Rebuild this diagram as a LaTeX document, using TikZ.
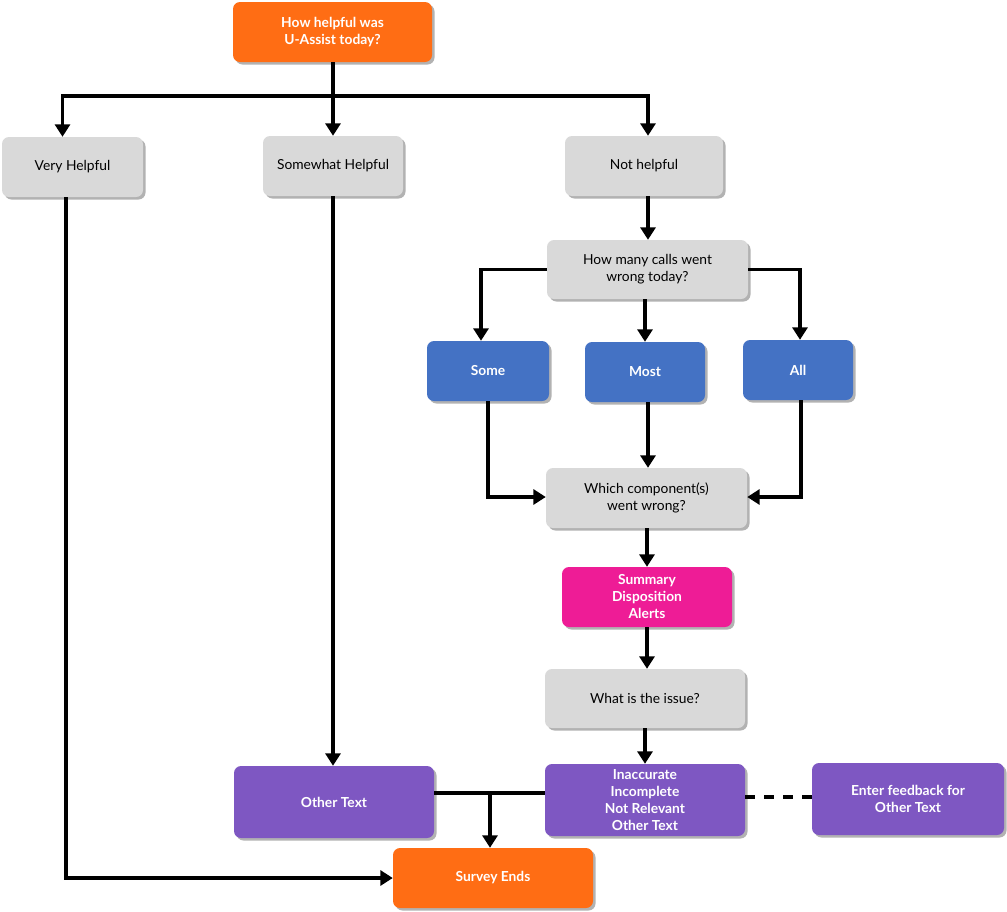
\documentclass[tikz,border=0pt]{standalone}
\usepackage{fontspec}
\setmainfont{Lato}
\usetikzlibrary{arrows.meta,shadows}
\definecolor{cgray}{HTML}{D9D9D9}
\definecolor{cblue}{HTML}{4472C4}
\definecolor{cpurple}{HTML}{7E57C2}
\definecolor{corange}{HTML}{FF6D14}
\definecolor{cpink}{HTML}{EE1C96}
\begin{document}
\begin{tikzpicture}[x=1pt,y=-1pt,
  box/.style={rounded corners=7pt, inner sep=0pt, align=center,
    font=\fontsize{13.8}{17}\selectfont,
    drop shadow={shadow xshift=2.5pt,shadow yshift=-2.5pt,fill=black!30,opacity=1}},
  gbox/.style={box, fill=cgray, text=black},
  cbox/.style={box, text=white, font=\fontsize{13.8}{17}\selectfont\bfseries},
  conn/.style={line width=3.5pt},
  arr/.style={conn, -{Triangle[width=15pt,length=12.5pt]}}]
\useasboundingbox (0,0) rectangle (1007,911);
% nodes
\node[cbox, fill=corange, minimum width=199, minimum height=60] (top) at (332.5,32) {How helpful was\\U-Assist today?};
\node[gbox, minimum width=141, minimum height=60] (vh) at (72.5,167) {Very Helpful};
\node[gbox, minimum width=140, minimum height=60] (sh) at (333,166) {Somewhat Helpful};
\node[gbox, minimum width=158, minimum height=60] (nh) at (644,166) {Not helpful};
\node[gbox, minimum width=201, minimum height=59] (hm) at (647.5,269.5) {How many calls went\\wrong today?};
\node[cbox, fill=cblue, minimum width=122, minimum height=60] (some) at (488,371) {Some};
\node[cbox, fill=cblue, minimum width=120, minimum height=60] (most) at (645,372) {Most};
\node[cbox, fill=cblue, minimum width=110, minimum height=60] (all) at (798,370) {All};
\node[gbox, minimum width=201, minimum height=60] (wc) at (646.5,498) {Which component(s)\\went wrong?};
\node[cbox, fill=cpink, minimum width=170, minimum height=60] (sum) at (647,597) {Summary\\Disposition\\Alerts};
\node[gbox, minimum width=200, minimum height=59] (wi) at (645,698.5) {What is the issue?};
\node[cbox, fill=cpurple, minimum width=200, minimum height=72] (inac) at (645,800) {Inaccurate\\Incomplete\\Not Relevant\\Other Text};
\node[cbox, fill=cpurple, minimum width=200, minimum height=72] (ot) at (334,802) {Other Text};
\node[cbox, fill=cpurple, minimum width=192, minimum height=72] (fb) at (908,799) {Enter feedback for\\Other Text};
\node[cbox, fill=corange, minimum width=200, minimum height=60] (se) at (493,878) {Survey Ends};
% connectors
\coordinate (bus) at (333,96);
\draw[conn] (top.south -| bus) -- (bus);
\draw[arr] (bus) -| ([xshift=-10]vh.north);
\draw[arr] (bus) -- (bus |- sh.north);
\draw[arr] (bus) -| ([xshift=4]nh.north);
\draw[arr] ([xshift=4]nh.south) -- ([xshift=0.5]hm.north);
\draw[arr] (hm.west) -| ([xshift=-7]some.north);
\draw[arr] ([xshift=-2.5]hm.south) -- (most.north);
\draw[arr] (hm.east) -| ([xshift=2]all.north);
\draw[arr] (some.south) |- ([yshift=1]wc.west);
\draw[arr] ([xshift=3]most.south) -- ([xshift=1.5]wc.north);
\draw[arr] ([xshift=3]all.south) |- ([yshift=1]wc.east);
\draw[arr] ([xshift=0.5]wc.south) -- (sum.north);
\draw[arr] (sum.south) -- ([xshift=2]wi.north);
\draw[arr] (wi.south) -- (inac.north);
\draw[arr] (sh.south) -- (sh.south |- ot.north);
\draw[arr] ([xshift=-6.5]vh.south) |- (se.west);
\coordinate (j) at (490,793);
\draw[conn] (ot.east |- j) -- (inac.west |- j);
\draw[arr] (j) -- (j |- se.north);
\draw[conn, dash pattern=on 10pt off 9pt] ([yshift=3]inac.east) -- ([yshift=2]fb.west);
\end{tikzpicture}
\end{document}
